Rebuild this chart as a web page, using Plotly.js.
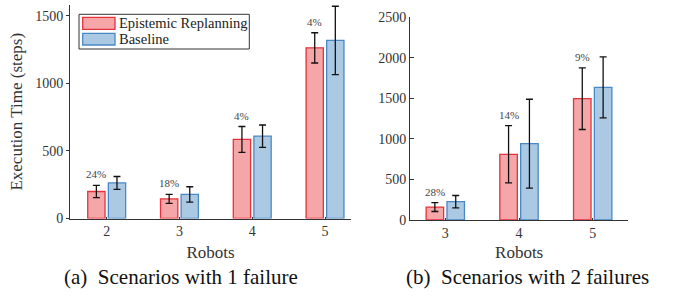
<!DOCTYPE html>
<html>
<head>
<meta charset="utf-8">
<script src="https://cdn.plot.ly/plotly-3.0.1.min.js"></script>
<style>html,body{margin:0;padding:0;background:#fff;}#chart{width:680px;height:296px;}</style>
</head>
<body>
<div id="chart"></div>
<script>
// ---- data ----
const robots1 = [2, 3, 4, 5];
const epist1 = [200, 145, 585, 1263];
const epist1Err = [45, 33, 96, 112];
const base1 = [263, 178, 609, 1318];
const base1Err = [48, 57, 83, 253];
const gain1 = ["24%", "18%", "4%", "4%"];

const robots2 = [3, 4, 5];
const epist2 = [160, 810, 1496];
const epist2Err = [55, 353, 380];
const base2 = [226, 941, 1636];
const base2Err = [76, 548, 377];
const gain2 = ["28%", "14%", "9%"];

const seriesNames = ["Epistemic Replanning", "Baseline"];
const captions = ["(a)  Scenarios with 1 failure", "(b)  Scenarios with 2 failures"];

// ---- style ----
const W = 680, H = 296;
const redFill = "#f4a6a8", redLine = "#e8323b";
const blueFill = "#abc9e2", blueLine = "#4a88c6";
const axisCol = "#333333";
const serif = "'Liberation Serif', 'Times New Roman', Tinos, serif";
const px = v => v / W;
const py = v => 1 - v / H;

function barTrace(x, y, err, fill, line, name, xa, ya) {
  return {
    type: "bar", x: x, y: y, name: name, xaxis: xa, yaxis: ya,
    marker: {color: fill, line: {color: line, width: 1.3}},
    error_y: {type: "data", array: err, visible: true, color: "#111", thickness: 1.3, width: 3.5},
    showlegend: false, hoverinfo: "skip"
  };
}

const data = [
  barTrace(robots1, epist1, epist1Err, redFill, redLine, seriesNames[0], "x", "y"),
  barTrace(robots1, base1, base1Err, blueFill, blueLine, seriesNames[1], "x", "y"),
  barTrace(robots2, epist2, epist2Err, redFill, redLine, seriesNames[0], "x2", "y2"),
  barTrace(robots2, base2, base2Err, blueFill, blueLine, seriesNames[1], "x2", "y2")
];

const slotHalf = 0.1415;
const annotations = [];
robots1.forEach((r, i) => annotations.push({
  x: r - slotHalf, y: epist1[i] + epist1Err[i], xref: "x", yref: "y",
  text: gain1[i], showarrow: false, yanchor: "bottom", yshift: 3,
  font: {family: serif, size: 11, color: "#444"}
}));
robots2.forEach((r, i) => annotations.push({
  x: r - slotHalf, y: epist2[i] + epist2Err[i], xref: "x2", yref: "y2",
  text: gain2[i], showarrow: false, yanchor: "bottom", yshift: 3,
  font: {family: serif, size: 11, color: "#444"}
}));
// legend texts
annotations.push({x: px(117), y: py(23.3), xref: "paper", yref: "paper", xanchor: "left", yanchor: "middle",
  text: seriesNames[0], showarrow: false, font: {family: serif, size: 14.5, color: "#222"}});
annotations.push({x: px(117), y: py(39.2), xref: "paper", yref: "paper", xanchor: "left", yanchor: "middle",
  text: seriesNames[1], showarrow: false, font: {family: serif, size: 14.5, color: "#222"}});
// captions
annotations.push({x: px(181), y: py(277), xref: "paper", yref: "paper", xanchor: "center", yanchor: "middle",
  text: captions[0], showarrow: false, font: {family: serif, size: 21, color: "#111"}});
annotations.push({x: px(527), y: py(277), xref: "paper", yref: "paper", xanchor: "center", yanchor: "middle",
  text: captions[1], showarrow: false, font: {family: serif, size: 21, color: "#111"}});

const shapes = [
  {type: "rect", xref: "paper", yref: "paper", x0: px(79), x1: px(249.3), y0: py(49), y1: py(14.3),
   line: {color: "#333", width: 1}, fillcolor: "#fff", layer: "above"},
  {type: "rect", xref: "paper", yref: "paper", x0: px(82.7), x1: px(115), y0: py(29.3), y1: py(17.3),
   line: {color: redLine, width: 1.3}, fillcolor: redFill, layer: "above"},
  {type: "rect", xref: "paper", yref: "paper", x0: px(82.7), x1: px(115), y0: py(45), y1: py(33.3),
   line: {color: blueLine, width: 1.3}, fillcolor: blueFill, layer: "above"}
];

const tickFont = {family: serif, size: 14, color: "#333"};
const titleFont = {family: serif, size: 17, color: "#333"};

const layout = {
  width: W, height: H,
  margin: {l: 0, r: 0, t: 0, b: 0},
  paper_bgcolor: "#fff", plot_bgcolor: "rgba(0,0,0,0)",
  font: {family: serif},
  barmode: "group", bargap: 0.434, bargroupgap: 0.16,
  showlegend: false,
  xaxis: {domain: [px(70), px(351)], range: [1.496, 5.357], tickvals: robots1, ticktext: robots1.map(String),
    showline: true, linecolor: axisCol, linewidth: 1, ticks: "inside", ticklen: 2, tickcolor: axisCol,
    showgrid: false, zeroline: false, tickfont: tickFont, anchor: "y",
    title: {text: "Robots", font: titleFont, standoff: 7}},
  yaxis: {domain: [py(218.5), py(5)], range: [0, (218.5 - 5) / 0.1351], tickvals: [0, 500, 1000, 1500],
    showline: true, linecolor: axisCol, linewidth: 1, ticks: "outside", ticklen: 3, tickcolor: axisCol,
    showgrid: false, zeroline: false, tickfont: tickFont, anchor: "x",
    title: {text: "Execution Time (steps)", font: titleFont, standoff: 8}},
  xaxis2: {domain: [px(410), px(628.3)], range: [2.521, 5.483], tickvals: robots2, ticktext: robots2.map(String),
    showline: true, linecolor: axisCol, linewidth: 1, ticks: "inside", ticklen: 2, tickcolor: axisCol,
    showgrid: false, zeroline: false, tickfont: tickFont, anchor: "y2",
    title: {text: "Robots", font: titleFont, standoff: 6}},
  yaxis2: {domain: [py(220), py(17.3)], range: [0, 2500], tickvals: [0, 500, 1000, 1500, 2000, 2500],
    showline: true, linecolor: axisCol, linewidth: 1, ticks: "inside", ticklen: 4, tickcolor: axisCol,
    showgrid: false, zeroline: false, tickfont: tickFont, anchor: "x2"},
  annotations: annotations,
  shapes: shapes
};

Plotly.newPlot("chart", data, layout, {staticPlot: true, displayModeBar: false});
</script>
</body>
</html>
